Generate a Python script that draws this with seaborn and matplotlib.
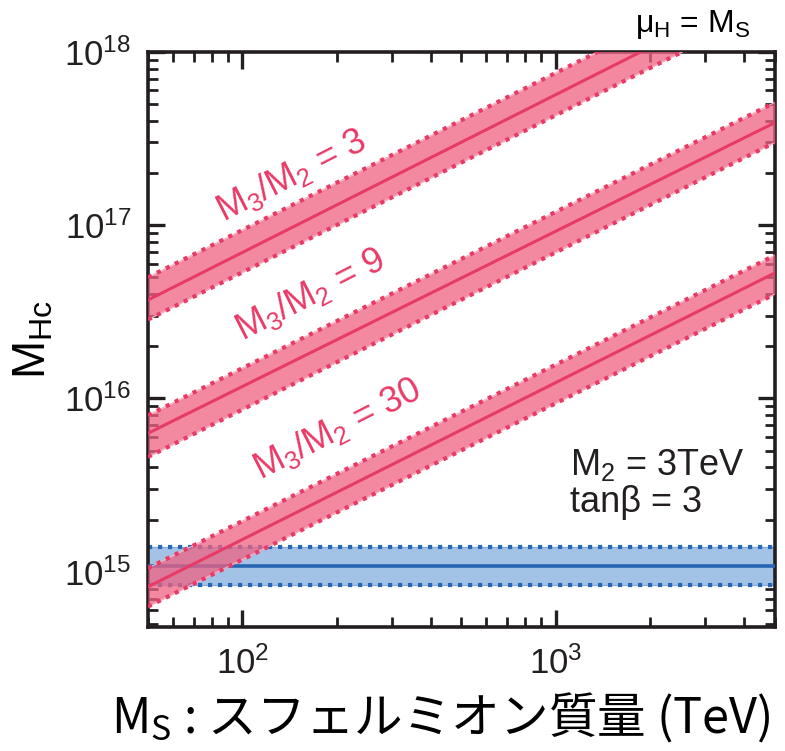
import numpy as np
import pandas as pd
import matplotlib
matplotlib.use("Agg")
import matplotlib.pyplot as plt
import matplotlib.ticker as mticker
import seaborn as sns

# Sfermion mass range (TeV) at the two ends of the plot
ms_ends = [50, 5000]

# Required colour-triplet Higgs mass for each gaugino ratio M3/M2: central value and band edges
m3m2_ratios = ["3", "9", "30"]
mhc_mid = {"3": [3.7e16, 2.45e18], "9": [6.3e15, 3.9e17], "30": [8.2e14, 5.3e16]}
mhc_hi = {"3": [5.0e16, 3.25e18], "9": [8.0e15, 5.1e17], "30": [1.05e15, 6.7e16]}
mhc_lo = {"3": [2.85e16, 1.85e18], "9": [4.6e15, 3.0e17], "30": [6.3e14, 4.0e16]}

# Proton-decay lower bound on M_Hc (independent of M_S)
bound_mid = 1.08e15
bound_hi = 1.4e15
bound_lo = 8.4e14

# Label positions (M_S, M_Hc) for each ratio
label_ms = {"3": 143, "9": 165, "30": 201}
label_mhc = {"3": 1.92e17, "9": 4.0e16, "30": 6.7e15}

PINK_FILL = "#ee6282"
PINK_LINE = "#e83a66"
PINK_EDGE = "#f7b0c0"
BLUE_FILL = "#a3c3e6"
BLUE_LINE = "#2765b5"
BLUE_EDGE = "#84abdc"
INK = "#231f20"

sns.set_theme(style="ticks")
REGULAR = ["Liberation Sans", "DejaVu Sans"]
plt.rcParams["font.family"] = REGULAR
plt.rcParams["mathtext.default"] = "regular"

fig = plt.figure(figsize=(7.85, 7.51), dpi=100)
ax = fig.add_axes([0.1885, 0.165, 0.7985, 0.766])

rows = []
for r in m3m2_ratios:
    for x, y in zip(ms_ends, mhc_mid[r]):
        rows.append({"ms": x, "mhc": y, "ratio": r})
df = pd.DataFrame(rows)

# Blue bound band
ax.fill_between(ms_ends, [bound_lo] * 2, [bound_hi] * 2, color=BLUE_FILL, lw=0, zorder=1)
for edge in (bound_lo, bound_hi):
    ax.plot(ms_ends, [edge] * 2, color=BLUE_EDGE, lw=0.9, zorder=2)
    ax.plot(ms_ends, [edge] * 2, color=BLUE_LINE, lw=3.0, ls=(0, (1, 1.4)), zorder=2)
sns.lineplot(x=ms_ends, y=[bound_mid] * 2, color=BLUE_LINE, lw=2.6, ax=ax, zorder=3)

# Pink bands for each gaugino ratio
for r in m3m2_ratios:
    ax.fill_between(ms_ends, mhc_lo[r], mhc_hi[r], color=PINK_FILL, alpha=0.75, lw=0, zorder=4)
    for edge in (mhc_lo[r], mhc_hi[r]):
        ax.plot(ms_ends, edge, color=PINK_EDGE, lw=0.9, zorder=5)
        ax.plot(ms_ends, edge, color=PINK_LINE, lw=3.0, ls=(0, (1, 1.4)), zorder=5)
sns.lineplot(data=df, x="ms", y="mhc", units="ratio", estimator=None,
             color=PINK_LINE, lw=2.2, ax=ax, zorder=6)

for r in m3m2_ratios:
    ax.text(label_ms[r], label_mhc[r], f"M$_3$/M$_2$ = {r}", color=PINK_LINE,
            fontsize=26, rotation=27, ha="center", va="center",
            rotation_mode="anchor", zorder=7)

ax.set_xscale("log")
ax.set_yscale("log")
ax.set_xlim(50, 5000)
ax.set_ylim(4.8e14, 1e18)

ax.xaxis.set_major_locator(mticker.LogLocator(base=10, numticks=10))
ax.xaxis.set_minor_locator(mticker.LogLocator(base=10, subs=np.arange(2, 10), numticks=20))
ax.yaxis.set_major_locator(mticker.LogLocator(base=10, numticks=10))
ax.yaxis.set_minor_locator(mticker.LogLocator(base=10, subs=np.arange(2, 10), numticks=20))
ax.xaxis.set_minor_formatter(mticker.NullFormatter())
ax.yaxis.set_minor_formatter(mticker.NullFormatter())

ax.tick_params(which="both", direction="in", top=True, right=True, colors=INK)
ax.tick_params(which="major", length=12, width=2.4, labelsize=25)
ax.tick_params(which="minor", length=7, width=2.0)
ax.tick_params(axis="y", which="major", pad=12)
ax.tick_params(axis="x", which="major", pad=14)
for s in ax.spines.values():
    s.set_linewidth(2.6)
    s.set_color(INK)

ax.set_xlabel("")
ax.set_ylabel("M$_{Hc}$", fontsize=33, labelpad=6, color="black")
# x-axis title placed as figure text so it can sit slightly left of the axes centre
fig.text(0.561, 0.045, "M$_S$ : スフェルミオン質量 (TeV)", fontsize=35,
         ha="center", va="center", color="black", family=["Noto Sans CJK JP"])

ax.text(0.673, 0.282, "M$_2$ = 3TeV", transform=ax.transAxes, fontsize=26,
        ha="left", va="center", color=INK)
ax.text(0.673, 0.216, "tanβ = 3", transform=ax.transAxes, fontsize=26,
        ha="left", va="center", color=INK)
fig.text(0.956, 0.967, "μ$_H$ = M$_S$", fontsize=23, ha="right", va="center",
         color="black")

fig.savefig("out.png", dpi=100)
